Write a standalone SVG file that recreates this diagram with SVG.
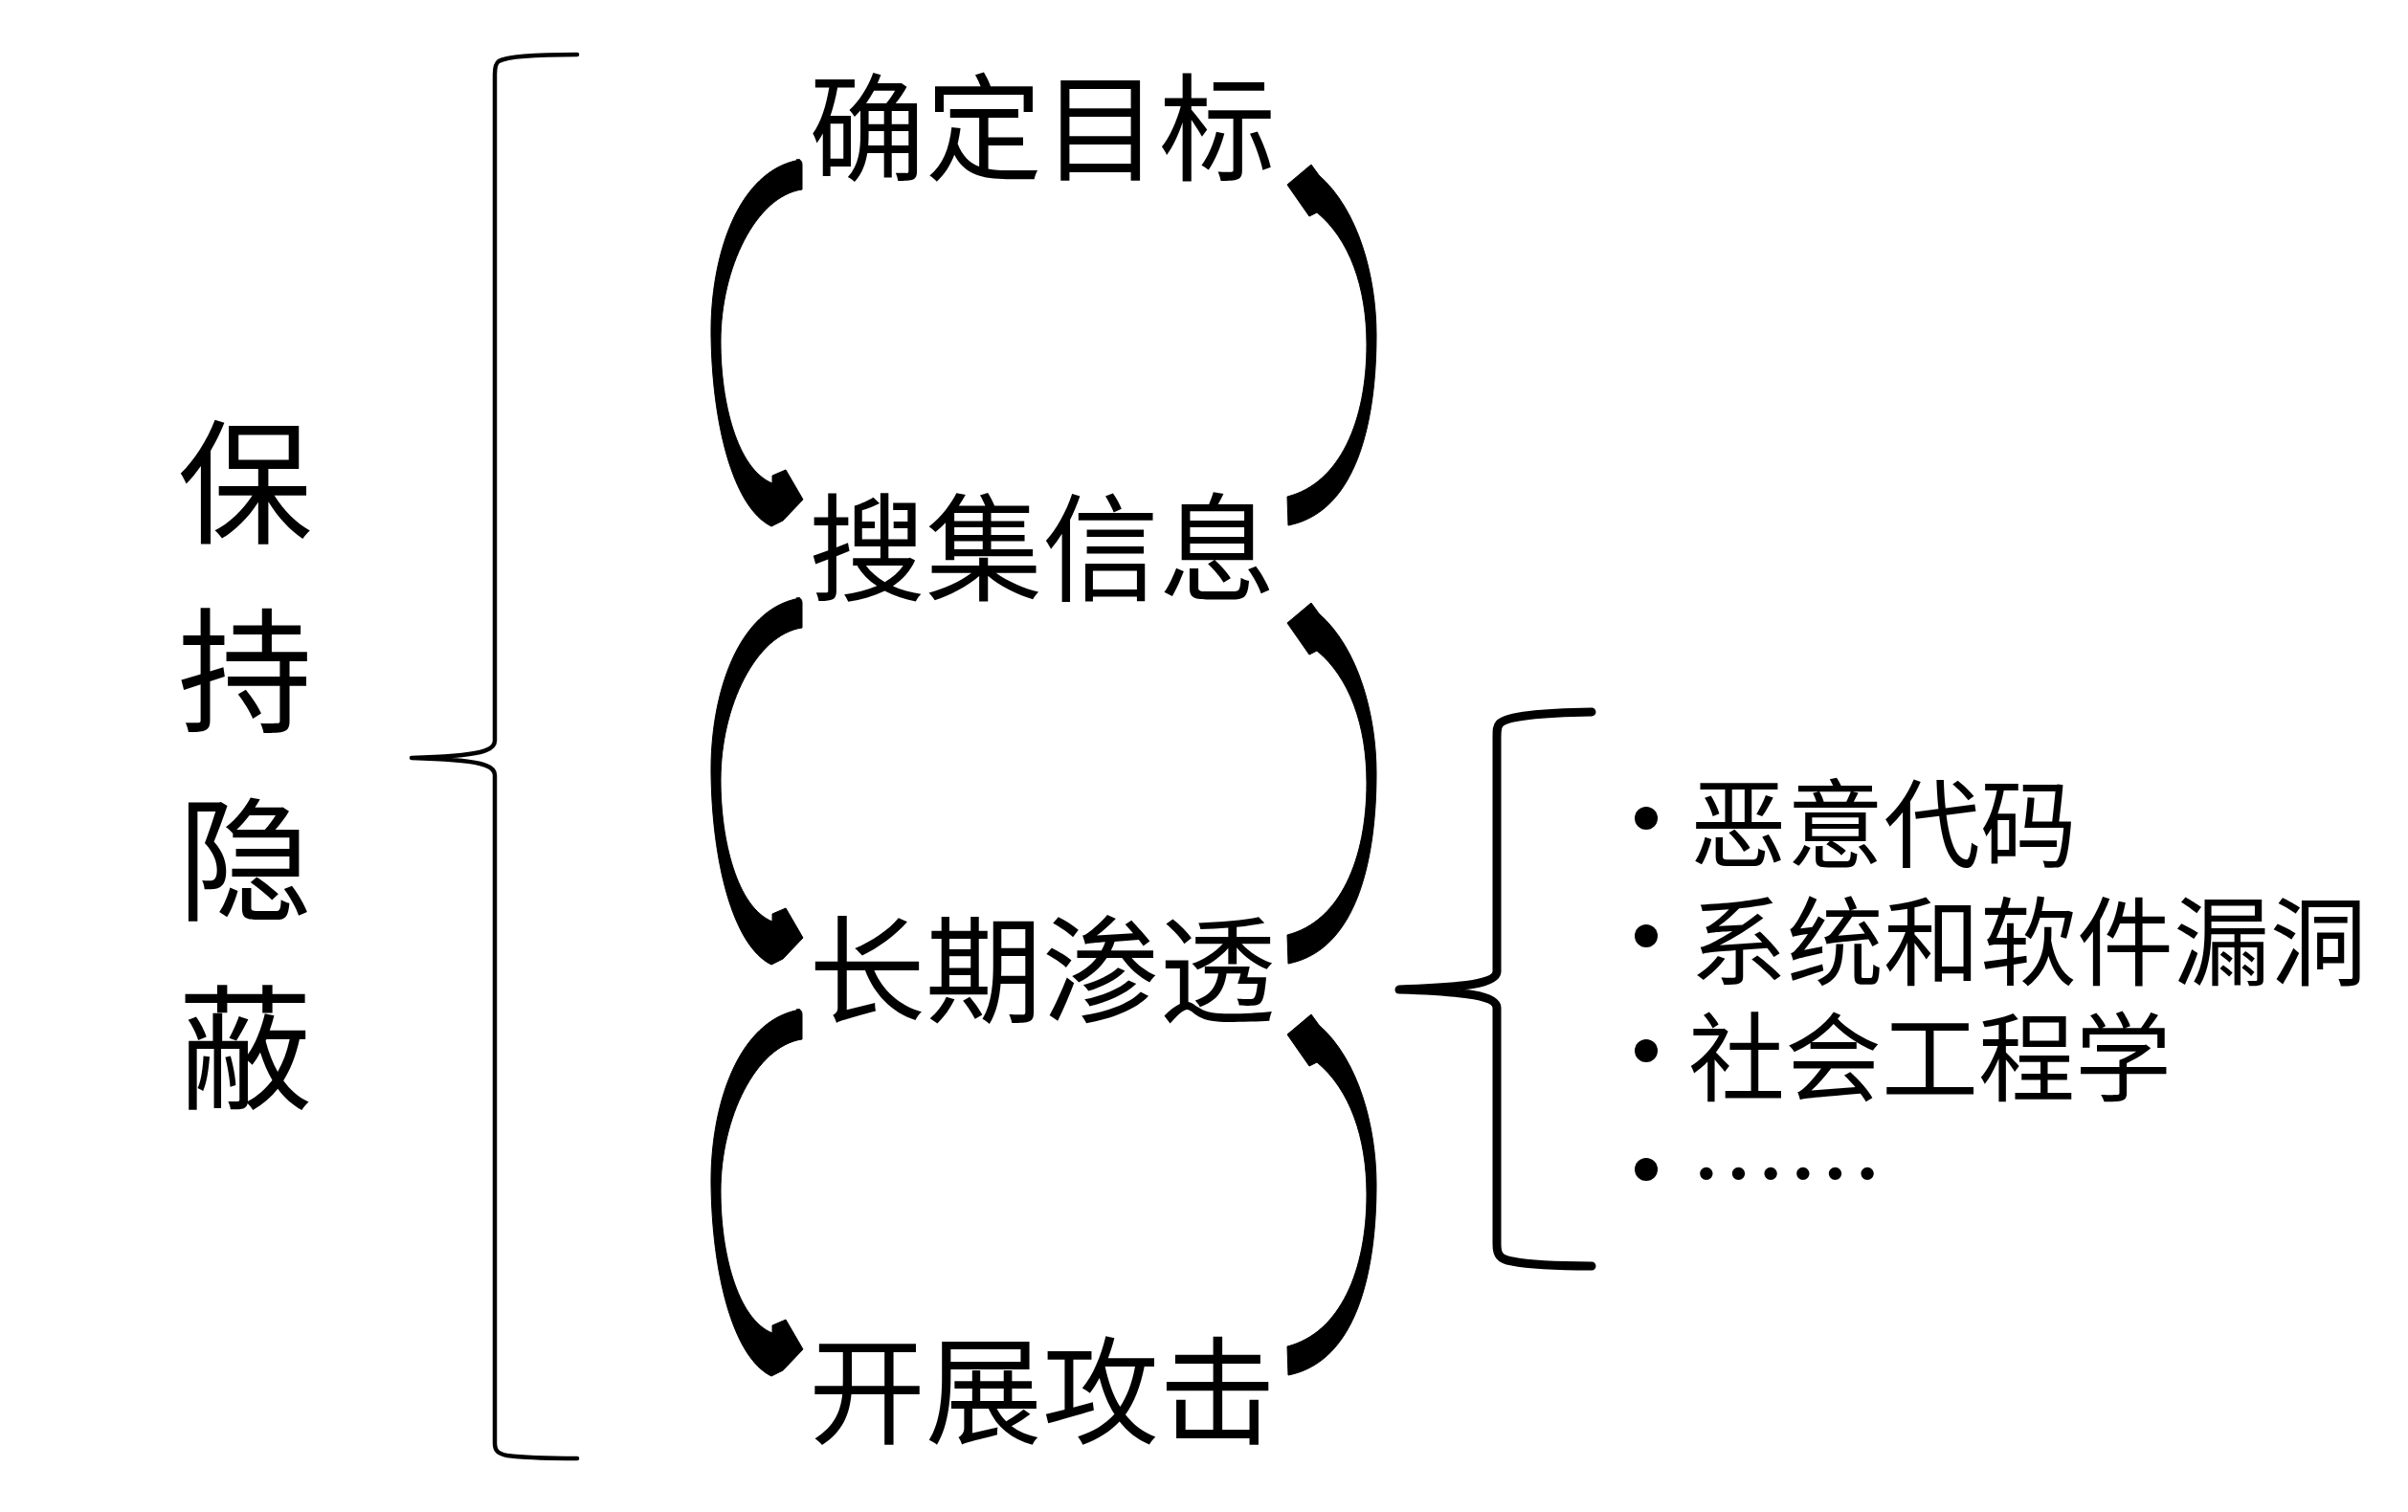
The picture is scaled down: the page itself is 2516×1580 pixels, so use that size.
<svg xmlns="http://www.w3.org/2000/svg" xmlns:xlink="http://www.w3.org/1999/xlink" width="2516" height="1580" viewBox="0 0 2516 1580">
  <style>
    .t { font-family: "Noto Sans CJK SC", "Noto Sans", sans-serif; fill: #000; }
    .step { font-size: 122px; text-anchor: middle; }
    .side { font-size: 141px; text-anchor: middle; }
    .item { font-size: 101px; }
    .brace { fill: none; stroke: #000; stroke-linecap: round; stroke-linejoin: round; }
    .arc { fill: #000; stroke: #000; stroke-width: 1; stroke-linejoin: round; }
  </style>
  <defs>
    <path id="arcL" d="M 836 167 C 770 178, 742 270, 743 350 C 744 440, 765 530, 806 550 L 818 544 L 839 522 L 821 491 L 807 497 L 807 505 C 770 490, 753 420, 753 357 C 753 280, 790 205, 838 198 L 838 172 Q 838 166, 832 167 Z"/>
    <path id="arcR" d="M 1378 183 C 1420 220, 1438 290, 1438 350 C 1438 440, 1418 535, 1346 549 L 1345 519 C 1400 505, 1428 440, 1428 360 C 1428 300, 1410 250, 1376 222 L 1368 226 L 1345 193 L 1370 172 Z"/>
  </defs>
  <rect width="2516" height="1580" fill="#fff"/>

  <g id="node-keep-hidden">
    <text class="t side" x="256" y="557">保</text>
    <text class="t side" x="256" y="754">持</text>
    <text class="t side" x="256" y="951">隐</text>
    <text class="t side" x="256" y="1148">蔽</text>
  </g>

  <g id="brace-left">
    <path class="brace" stroke-width="4.5" d="M 603 57 C 560 57, 530 59, 521 64 C 518 66, 517 70, 517 78 L 517 774 C 517 784, 505 790, 430 792 C 505 794, 517 800, 517 810 L 517 1508 C 517 1516, 520 1519, 530 1521 C 545 1523, 570 1524, 603 1524"/>
  </g>

  <g id="node-target"><text class="t step" x="1089" y="179">确定目标</text></g>
  <g id="node-collect"><text class="t step" x="1089" y="618">搜集信息</text></g>
  <g id="node-infiltrate"><text class="t step" x="1089" y="1059">长期渗透</text></g>
  <g id="node-attack"><text class="t step" x="1089" y="1499">开展攻击</text></g>

  <g id="connectors">
    <use xlink:href="#arcL" class="arc"/>
    <use xlink:href="#arcR" class="arc"/>
    <use xlink:href="#arcL" class="arc" transform="translate(0,458)"/>
    <use xlink:href="#arcR" class="arc" transform="translate(0,458)"/>
    <use xlink:href="#arcL" class="arc" transform="translate(0,888)"/>
    <use xlink:href="#arcR" class="arc" transform="translate(0,888)"/>
  </g>

  <g id="brace-right">
    <path class="brace" stroke-width="9" d="M 1663 744 C 1610 745, 1575 748, 1567 756 C 1564 759, 1564 763, 1564 770 L 1564 1015 C 1564 1028, 1530 1032, 1462 1034 C 1530 1036, 1564 1040, 1564 1053 L 1564 1300 C 1564 1310, 1566 1316, 1580 1318 C 1600 1322, 1630 1323, 1663 1323"/>
  </g>

  <g id="node-methods">
    <circle cx="1720" cy="855" r="12"/>
    <circle cx="1720" cy="978" r="12"/>
    <circle cx="1720" cy="1098" r="12"/>
    <circle cx="1720" cy="1222" r="12"/>
    <text class="t item" x="1766" y="899">恶意代码</text>
    <text class="t item" x="1766" y="1022">系统和软件漏洞</text>
    <text class="t item" x="1764" y="1143">社会工程学</text>
    <text class="t item" x="1766" y="1265">……</text>
  </g>
</svg>
